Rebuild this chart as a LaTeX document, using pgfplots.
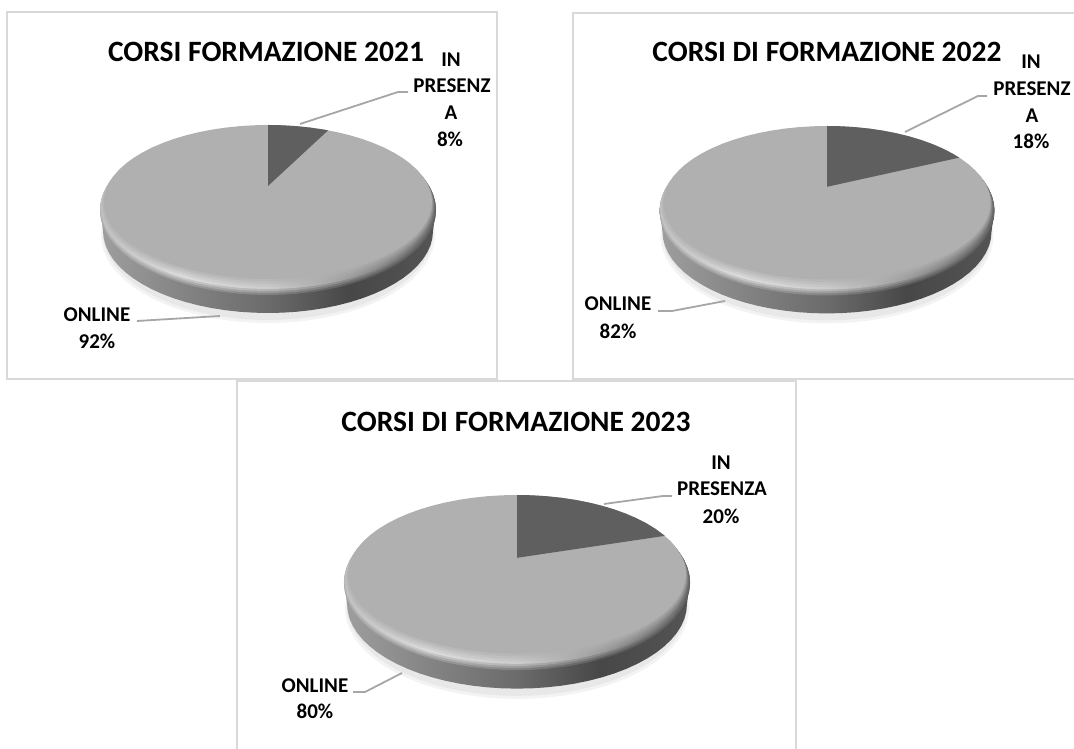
\documentclass[border=0pt]{standalone}
\usepackage{fontspec}
\setmainfont{Carlito}
\usepackage{pgfplots}
\pgfplotsset{compat=1.18}
\usepackage{pgfplotstable}
\definecolor{frame}{HTML}{D9D9D9}
\definecolor{flat}{HTML}{B0B0B0}
\definecolor{wedge}{HTML}{5F5F5F}
\definecolor{lead}{HTML}{A6A6A6}
\definecolor{shadA}{HTML}{F3F3F3}
\definecolor{shadB}{HTML}{E8E8E8}
\newcommand{\mkS}[6]{\pgfdeclarehorizontalshading{#1}{100bp}{rgb(0bp)=(#2,#2,#2); rgb(25bp)=(#2,#2,#2); rgb(37bp)=(#3,#3,#3); rgb(50bp)=(#4,#4,#4); rgb(62bp)=(#5,#5,#5); rgb(75bp)=(#6,#6,#6); rgb(100bp)=(#6,#6,#6)}}
\mkS{sideS}{.62}{.52}{.42}{.28}{.33}
\mkS{sA}{.655}{.605}{.515}{.365}{.3525}
\mkS{sB}{.69}{.69}{.61}{.45}{.375}
\mkS{sC}{.725}{.775}{.705}{.535}{.3975}
\mkS{sD}{.76}{.86}{.80}{.62}{.42}
\mkS{sE}{.7425}{.8175}{.7725}{.6375}{.4875}
\mkS{sF}{.725}{.775}{.745}{.655}{.555}
\mkS{sG}{.7075}{.7325}{.7175}{.6725}{.6225}
\pgfplotstableread{
u v
0 1
.0872 .9962
.1736 .9848
.2588 .9659
.3420 .9397
.4226 .9063
.5 .8660
.5736 .8192
.6428 .7660
.7071 .7071
.7660 .6428
.8192 .5736
.8660 .5
.9063 .4226
.9397 .3420
.9659 .2588
.9848 .1736
.9962 .0872
1 0
.9962 -.0872
.9848 -.1736
.9659 -.2588
.9397 -.3420
.9063 -.4226
.8660 -.5
.8192 -.5736
.7660 -.6428
.7071 -.7071
.6428 -.7660
.5736 -.8192
.5 -.8660
.4226 -.9063
.3420 -.9397
.2588 -.9659
.1736 -.9848
.0872 -.9962
0 -1
-.0872 -.9962
-.1736 -.9848
-.2588 -.9659
-.3420 -.9397
-.4226 -.9063
-.5 -.8660
-.5736 -.8192
-.6428 -.7660
-.7071 -.7071
-.7660 -.6428
-.8192 -.5736
-.8660 -.5
-.9063 -.4226
-.9397 -.3420
-.9659 -.2588
-.9848 -.1736
-.9962 -.0872
-1 0
-.9962 .0872
-.9848 .1736
-.9659 .2588
-.9397 .3420
-.9063 .4226
-.8660 .5
-.8192 .5736
-.7660 .6428
-.7071 .7071
-.6428 .7660
-.5736 .8192
-.5 .8660
-.4226 .9063
-.3420 .9397
-.2588 .9659
-.1736 .9848
-.0872 .9962
0 1
}\unitc
\pgfplotstableread{
u v e
1 0 0
1 0 1
.9962 -.0872 1
.9848 -.1736 1
.9659 -.2588 1
.9397 -.3420 1
.9063 -.4226 1
.8660 -.5 1
.8192 -.5736 1
.7660 -.6428 1
.7071 -.7071 1
.6428 -.7660 1
.5736 -.8192 1
.5 -.8660 1
.4226 -.9063 1
.3420 -.9397 1
.2588 -.9659 1
.1736 -.9848 1
.0872 -.9962 1
0 -1 1
-.0872 -.9962 1
-.1736 -.9848 1
-.2588 -.9659 1
-.3420 -.9397 1
-.4226 -.9063 1
-.5 -.8660 1
-.5736 -.8192 1
-.6428 -.7660 1
-.7071 -.7071 1
-.7660 -.6428 1
-.8192 -.5736 1
-.8660 -.5 1
-.9063 -.4226 1
-.9397 -.3420 1
-.9659 -.2588 1
-.9848 -.1736 1
-.9962 -.0872 1
-1 0 1
-1 0 0
}\sidet
% IN PRESENZA slices, unit coordinates on the top face (apex, then along the rim)
\pgfplotstableread{
u v
0 .208
0 1
.0872 .9962
.1736 .9848
.2588 .9659
.3420 .9397
.3665 .9304
}\sliceA
\pgfplotstableread{
u v
0 .208
0 1
.0872 .9962
.1736 .9848
.2588 .9659
.3420 .9397
.4226 .9063
.5 .8660
.5736 .8192
.6428 .7660
.7071 .7071
.7660 .6428
.8090 .5878
}\sliceB
\pgfplotstableread{
u v
0 .208
0 1
.0872 .9962
.1736 .9848
.2588 .9659
.3420 .9397
.4226 .9063
.5 .8660
.5736 .8192
.6428 .7660
.7071 .7071
.7660 .6428
.8192 .5736
.8660 .5
.8746 .4848
}\sliceC
\newcommand{\layer}[4]{\addplot[draw=none,forget plot,#1] table[x expr=\cx+\s*#3*\thisrow{u}, y expr=\T-\s*#2+\s*#4*\thisrow{v}] {\unitc};}
\newcommand{\pie}[1]{%
  \layer{fill=shadA}{110}{167}{88}
  \layer{fill=shadB}{108}{165}{87}
  \addplot[draw=none,forget plot,shading=sideS] table[x expr=\cx+\s*(168-3*\thisrow{e})*\thisrow{u}, y expr=\T-\s*82+\s*82*\thisrow{v}-\s*24*\thisrow{e}] {\sidet};
  \layer{shading=sA}{85.5}{168}{84.5}
  \layer{shading=sB}{84.6}{168}{83.4}
  \layer{shading=sC}{83.6}{167.5}{82.4}
  \layer{shading=sD}{82.6}{167}{81.4}
  \layer{shading=sE}{81.2}{166.2}{80.3}
  \layer{shading=sF}{80}{165.5}{79}
  \layer{shading=sG}{78.6}{164.7}{77.9}
  \layer{fill=flat}{77}{164}{77}
  \addplot[draw=none,fill=wedge,forget plot] table[x expr=\cx+\s*164*\thisrow{u}, y expr=\T-\s*77+\s*77*\thisrow{v}] {#1};
}
\newcommand{\lab}[3]{\node[font=\fontsize{21}{25}\selectfont\bfseries,inner sep=0pt,color=black] at (axis cs:#1,{749-#2}) {#3};}
\newcommand{\ttl}[3]{\node[font=\fontsize{29.5}{34}\selectfont\bfseries,inner sep=0pt,color=black] at (axis cs:#1,{749-#2}) {#3};}
\pgfplotsset{panel/.style={anchor=south west,scale only axis,clip=false,xtick=\empty,ytick=\empty,
  axis line style={color=frame,line width=2pt},
  leader/.style={color=lead,line width=1.8pt,forget plot}}}
\begin{document}
\begin{tikzpicture}[x=1pt,y=1pt]
\path[use as bounding box] (0,0) rectangle (1074,749);
% 2021
\begin{axis}[panel,at={(7pt,370pt)},width=490pt,height=367pt,xmin=7,xmax=497,ymin=370,ymax=737]
\def\cx{268}\def\T{624}\def\s{1}
\pie{\sliceA}
\addplot[leader] coordinates {(300,625) (398,657) (408,657)};
\addplot[leader] coordinates {(220,433) (137,428)};
\ttl{266}{52}{CORSI FORMAZIONE 2021}
\lab{451}{60}{IN}\lab{452}{86}{PRESENZ}\lab{451}{113}{A}\lab{450}{139}{8\%}
\lab{97}{315}{ONLINE}\lab{97}{341}{92\%}
\end{axis}
% 2022
\begin{axis}[panel,at={(573pt,370pt)},width=510pt,height=366pt,xmin=573,xmax=1083,ymin=370,ymax=736]
\def\cx{827}\def\T{623}\def\s{0.997}
\pie{\sliceB}
\addplot[leader] coordinates {(905,617) (978,653) (987,653)};
\addplot[leader] coordinates {(725,448) (672,438) (658,438)};
\ttl{827}{52}{CORSI DI FORMAZIONE 2022}
\lab{1031}{62}{IN}\lab{1032}{89}{PRESENZ}\lab{1032}{116}{A}\lab{1031}{141}{18\%}
\lab{618}{304}{ONLINE}\lab{618}{331}{82\%}
\end{axis}
% 2023
\begin{axis}[panel,at={(237pt,-8pt)},width=559pt,height=376pt,xmin=237,xmax=796,ymin=-8,ymax=368]
\def\cx{517}\def\T{254}\def\s{1.03}
\pie{\sliceC}
\addplot[leader] coordinates {(604,245) (663,253) (672,253)};
\addplot[leader] coordinates {(402,76) (365,57) (353,57)};
\ttl{516}{422}{CORSI DI FORMAZIONE 2023}
\lab{721}{463}{IN}\lab{722}{489}{PRESENZA}\lab{721}{516}{20\%}
\lab{315}{686}{ONLINE}\lab{315}{711}{80\%}
\end{axis}
\end{tikzpicture}
\end{document}
